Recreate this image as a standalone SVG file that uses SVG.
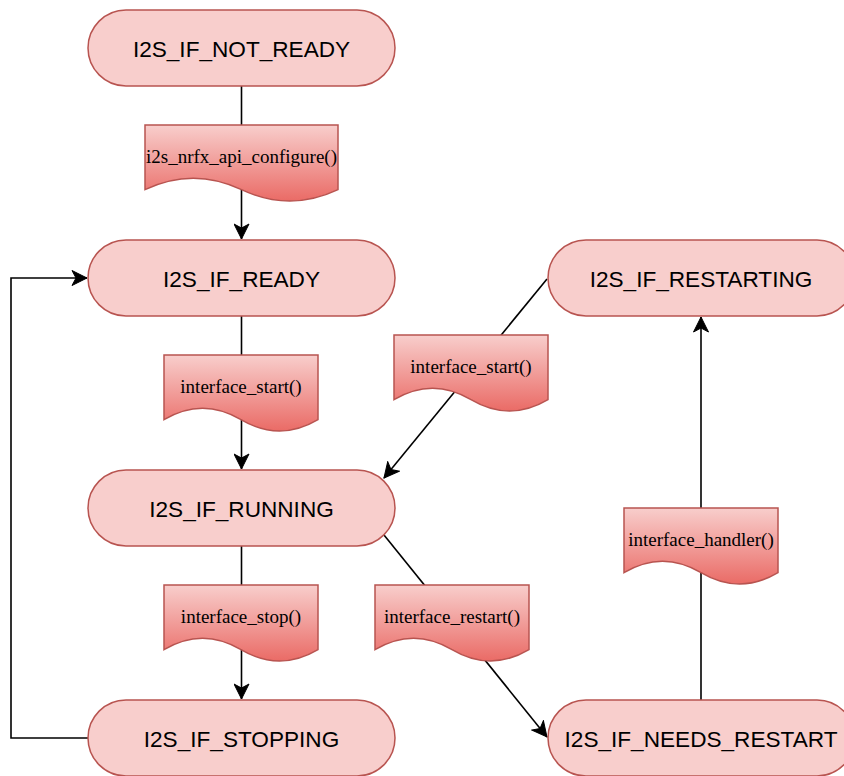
<svg xmlns="http://www.w3.org/2000/svg" width="844" height="776" viewBox="0 0 844 776">
  <style>
    .state rect { fill: #f8cecc; stroke: #b85450; stroke-width: 1.5; }
    .state text { font-family: "Liberation Sans", Arial, sans-serif; font-size: 22.6px; fill: #000; text-anchor: middle; }
    .doc path { fill: url(#docGrad); stroke: #b85450; stroke-width: 1.5; }
    .doc text { font-family: "Liberation Serif", "Times New Roman", serif; font-size: 19px; fill: #000; text-anchor: middle; }
    .edge { fill: none; stroke: #000; stroke-width: 1.6; }
  </style>
  <defs>
    <linearGradient id="docGrad" x1="0" y1="0" x2="0" y2="1">
      <stop offset="0" stop-color="#f8cecc"/>
      <stop offset="1" stop-color="#ea6b66"/>
    </linearGradient>
    <marker id="arrow" viewBox="-16 -8 17 16" markerWidth="17" markerHeight="16" refX="0" refY="0" orient="auto" markerUnits="userSpaceOnUse">
      <path d="M0,0 L-15,-7.5 L-11,0 L-15,7.5 Z" fill="#000" stroke="#000" stroke-width="1"/>
    </marker>
  </defs>

  <g id="connectors">
    <path class="edge" d="M241.5,86 V239" marker-end="url(#arrow)"/>
    <path class="edge" d="M241.5,316 V469" marker-end="url(#arrow)"/>
    <path class="edge" d="M241.5,546 V699" marker-end="url(#arrow)"/>
    <path class="edge" d="M88,738 H11 V278 H87" marker-end="url(#arrow)"/>
    <path class="edge" d="M547,279 L384,478" marker-end="url(#arrow)"/>
    <path class="edge" d="M384,535 L547,737" marker-end="url(#arrow)"/>
    <path class="edge" d="M701,700 V317" marker-end="url(#arrow)"/>
  </g>

  <g id="n-not-ready" class="state">
    <rect x="88" y="10" width="307" height="76" rx="38" ry="38"/>
    <text x="241.5" y="56.5">I2S_IF_NOT_READY</text>
  </g>
  <g id="n-ready" class="state">
    <rect x="88" y="240" width="307" height="76" rx="38" ry="38"/>
    <text x="241.5" y="286.5">I2S_IF_READY</text>
  </g>
  <g id="n-running" class="state">
    <rect x="88" y="470" width="307" height="76" rx="38" ry="38"/>
    <text x="241.5" y="516.5">I2S_IF_RUNNING</text>
  </g>
  <g id="n-stopping" class="state">
    <rect x="88" y="700" width="307" height="76" rx="38" ry="38"/>
    <text x="241.5" y="746.5">I2S_IF_STOPPING</text>
  </g>
  <g id="n-restarting" class="state">
    <rect x="548" y="240" width="307" height="76" rx="38" ry="38"/>
    <text x="701" y="286.5">I2S_IF_RESTARTING</text>
  </g>
  <g id="n-needs-restart" class="state">
    <rect x="548" y="700" width="307" height="76" rx="38" ry="38"/>
    <text x="701" y="746.5">I2S_IF_NEEDS_RESTART</text>
  </g>

  <g id="d-configure" class="doc">
    <path d="M145,125 H338 V189.6 Q289.75,212.4 241.5,189.6 Q193.25,166.8 145,189.6 Z"/>
    <text x="241.5" y="163">i2s_nrfx_api_configure()</text>
  </g>
  <g id="d-start-left" class="doc">
    <path d="M164,355 H318 V419.6 Q279.5,442.4 241,419.6 Q202.5,396.8 164,419.6 Z"/>
    <text x="241" y="393">interface_start()</text>
  </g>
  <g id="d-stop" class="doc">
    <path d="M164,585 H318 V649.6 Q279.5,672.4 241,649.6 Q202.5,626.8 164,649.6 Z"/>
    <text x="241" y="623">interface_stop()</text>
  </g>
  <g id="d-start-right" class="doc">
    <path d="M394,335 H548 V399.6 Q509.5,422.4 471,399.6 Q432.5,376.8 394,399.6 Z"/>
    <text x="471" y="373">interface_start()</text>
  </g>
  <g id="d-restart" class="doc">
    <path d="M375,585 H529 V649.6 Q490.5,672.4 452,649.6 Q413.5,626.8 375,649.6 Z"/>
    <text x="452" y="623">interface_restart()</text>
  </g>
  <g id="d-handler" class="doc">
    <path d="M624,508 H778 V572.6 Q739.5,595.4 701,572.6 Q662.5,549.8 624,572.6 Z"/>
    <text x="701" y="546">interface_handler()</text>
  </g>
</svg>
